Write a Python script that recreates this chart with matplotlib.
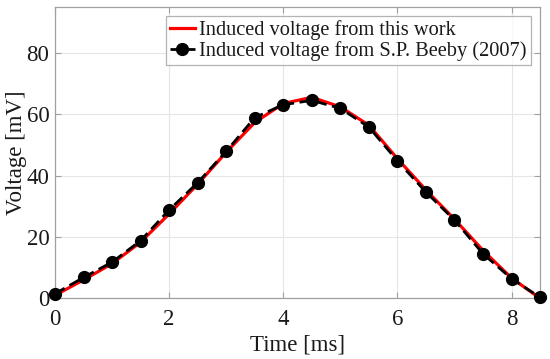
import matplotlib.pyplot as plt
import numpy as np

plt.rcParams['font.family'] = ['Liberation Serif', 'DejaVu Serif']
plt.rcParams['mathtext.fontset'] = 'stix'

# time points [ms]
t = [0, 0.5, 1.0, 1.5, 2.0, 2.5, 3.0, 3.5, 4.0, 4.5, 5.0, 5.5, 6.0, 6.5, 7.0, 7.5, 8.0, 8.5]
# induced voltage from this work [mV]
v_work = [1.0, 6.0, 11.3, 18.3, 27.5, 37.2, 47.6, 57.3, 63.5, 65.5, 62.4, 56.4, 45.5, 35.3, 25.8, 15.6, 6.6, 0.0]
# induced voltage from S.P. Beeby (2007) [mV]
v_beeby = [1.5, 6.8, 11.8, 18.8, 28.8, 37.7, 47.9, 58.9, 63.1, 64.5, 61.9, 55.8, 44.8, 34.6, 25.5, 14.5, 6.4, 0.3]

fig = plt.figure(figsize=(5.5, 3.59), dpi=100)
ax = fig.add_axes([0.1, 0.169, 0.882, 0.812])

ax.plot(t, v_work, color='red', lw=2.3, label='Induced voltage from this work',
        zorder=3, clip_on=False)
ax.plot(t, v_beeby, color='black', ls='--', lw=2.0, marker='o', ms=8.5,
        dashes=(4, 2), label='Induced voltage from S.P. Beeby (2007)', zorder=4,
        clip_on=False)

ax.set_xlim(0, 8.5)
ax.set_ylim(0, 95)
ax.set_xticks([0, 2, 4, 6, 8])
ax.set_yticks([0, 20, 40, 60, 80])
ax.grid(True, color='#e6e6e6', lw=0.8)
ax.set_axisbelow(True)
for s in ax.spines.values():
    s.set_color('#a0a0a0')
    s.set_linewidth(0.9)
ax.tick_params(direction='in', top=True, right=True, color='#a0a0a0',
               labelsize=16.5, labelcolor='#1a1a1a', length=4)
ax.tick_params(axis='x', pad=8)
ax.tick_params(axis='y', pad=4)
ax.set_xlabel('Time [ms]', fontsize=16.5, color='#1a1a1a', labelpad=3)
ax.set_ylabel('Voltage [mV]', fontsize=16.5, color='#1a1a1a', labelpad=0)

leg = ax.legend(loc='upper right', fontsize=14.7, frameon=True, fancybox=False,
                edgecolor='#a0a0a0', borderpad=0.2, handlelength=1.25,
                handletextpad=0.2, labelspacing=0.05, borderaxespad=0.45)
leg.get_frame().set_linewidth(0.9)
for txt in leg.get_texts():
    txt.set_color('#1a1a1a')

fig.savefig('out.png', dpi=100)
